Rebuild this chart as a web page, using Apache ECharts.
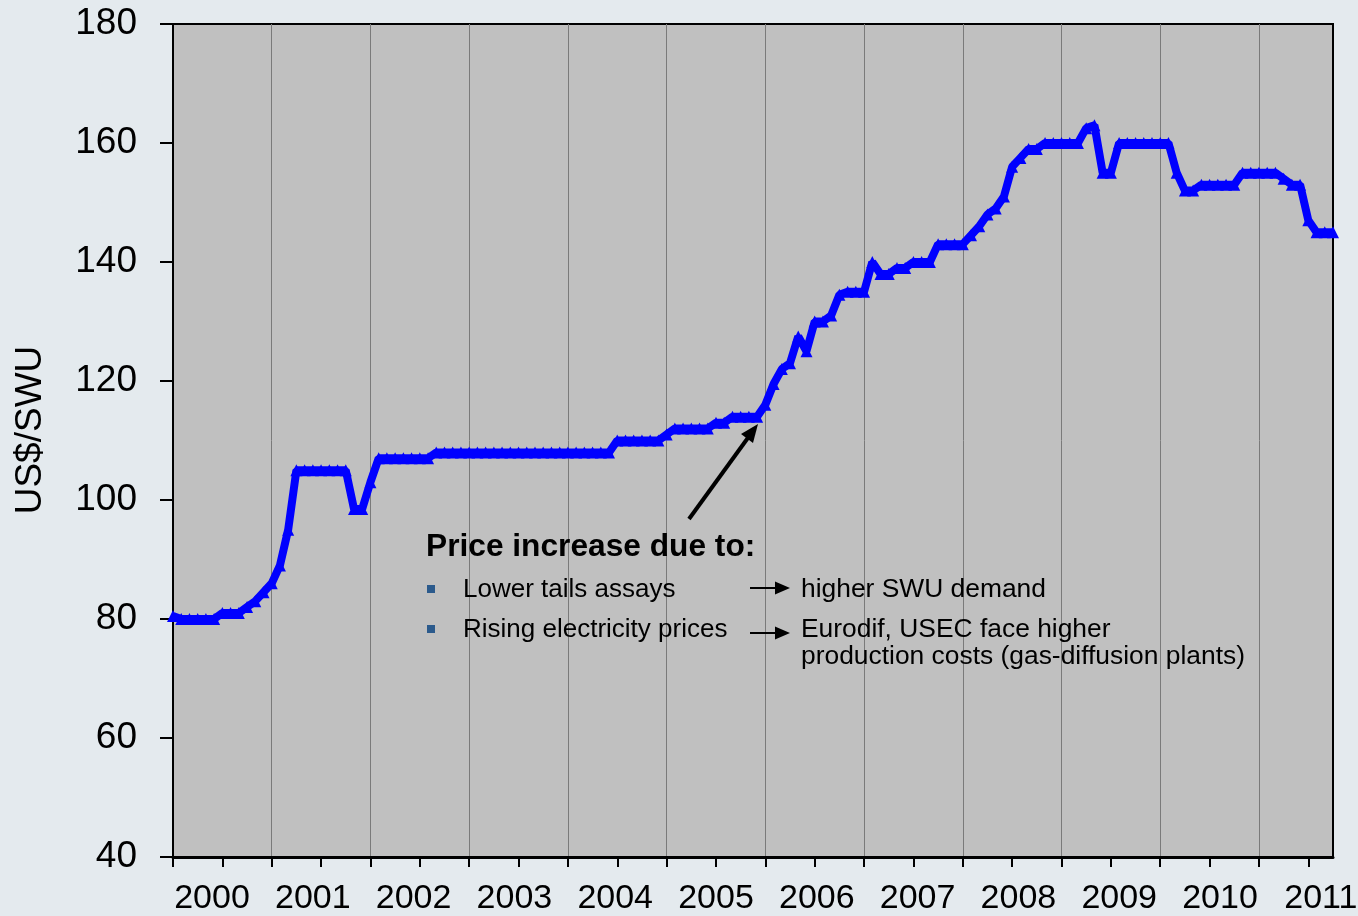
<!DOCTYPE html>
<html>
<head>
<meta charset="utf-8">
<script src="https://cdn.jsdelivr.net/npm/echarts@6/dist/echarts.min.js"></script>
<style>
html, body { margin: 0; padding: 0; background: #e4eaee; }
#main { width: 1358px; height: 916px; }
</style>
</head>
<body>
<div id="main"></div>
<script>
// year labels
var years = ['2000', '2001', '2002', '2003', '2004', '2005', '2006', '2007', '2008', '2009', '2010', '2011'];
// monthly spot price, US$/SWU, Jan 2000 .. Oct 2011
var price = [
    80.5, 80, 80, 80, 80, 80, 81, 81, 81, 82, 83, 84.5,                 // 2000
    86, 89, 95, 105, 105, 105, 105, 105, 105, 105, 98.5, 98.5,          // 2001
    103, 107, 107, 107, 107, 107, 107, 107, 108, 108, 108, 108,         // 2002
    108, 108, 108, 108, 108, 108, 108, 108, 108, 108, 108, 108,         // 2003
    108, 108, 108, 108, 108, 108, 110, 110, 110, 110, 110, 110,         // 2004
    111, 112, 112, 112, 112, 112, 113, 113, 114, 114, 114, 114,         // 2005
    116, 119.5, 122, 123, 127.5, 125, 130, 130, 131, 134.5, 135, 135,   // 2006
    135, 140, 138, 138, 139, 139, 140, 140, 140, 143, 143, 143,         // 2007
    143, 144.5, 146, 148, 149, 151, 156, 157.5, 159, 159, 160, 160,     // 2008
    160, 160, 160, 162.5, 163, 155, 155, 160, 160, 160, 160, 160,       // 2009
    160, 160, 155, 152, 152, 153, 153, 153, 153, 153, 155, 155,         // 2010
    155, 155, 155, 154, 153, 153, 147, 145, 145, 145                    // 2011
];
var yTicks = [40, 60, 80, 100, 120, 140, 160, 180];
// the year labels sit in their own evenly spaced row (slightly wider than the month scale)
var labelSlots = [0, 1, 2, 3, 4, 5, 6, 7, 8, 9, 10, 11];

// month categories built from the year list
var months = [];
for (var i = 0; i < price.length; i++) {
    var m = i % 12 + 1;
    months.push(years[Math.floor(i / 12)] + '-' + (m < 10 ? '0' + m : m));
}

var font = 'Liberation Sans, Arial, sans-serif';
var myChart = echarts.init(document.getElementById('main'));

function txt(x, y, s, size, bold) {
    return {
        type: 'text', x: x, y: y, z: 100,
        style: {
            text: s, fill: '#000',
            font: (bold ? 'bold ' : '') + size + 'px ' + font,
            textAlign: 'left', textVerticalAlign: 'middle',
            align: 'left', verticalAlign: 'middle'
        }
    };
}
function smallArrow(x, y) {
    return [
        { type: 'line', z: 100, shape: { x1: x, y1: y, x2: x + 28, y2: y }, style: { stroke: '#000', lineWidth: 2 } },
        { type: 'polygon', z: 100, shape: { points: [[x + 25, y - 6.5], [x + 40, y], [x + 25, y + 6.5]] }, style: { fill: '#000' } }
    ];
}

var graphics = [
    // y axis title
    {
        type: 'text', x: 31, y: 430, rotation: Math.PI / 2, z: 100,
        style: {
            text: 'US$/SWU', fill: '#000', font: '37px ' + font,
            textAlign: 'center', textVerticalAlign: 'middle',
            align: 'center', verticalAlign: 'middle'
        }
    },
    // big arrow to the start of the price rise
    { type: 'line', z: 100, shape: { x1: 689, y1: 519, x2: 750, y2: 435 }, style: { stroke: '#000', lineWidth: 4 } },
    { type: 'polygon', z: 100, shape: { points: [[758, 424], [753, 443], [741, 434]] }, style: { fill: '#000' } },
    txt(426, 547, 'Price increase due to:', 31.7, true),
    { type: 'rect', z: 100, shape: { x: 427, y: 585, width: 8, height: 8 }, style: { fill: '#2b5a8c' } },
    { type: 'rect', z: 100, shape: { x: 427, y: 625, width: 8, height: 8 }, style: { fill: '#2b5a8c' } },
    txt(463, 590, 'Lower tails assays', 26),
    txt(463, 630, 'Rising electricity prices', 26),
    txt(801, 590, 'higher SWU demand', 26.4),
    txt(801, 630, 'Eurodif, USEC face higher', 26.4),
    txt(801, 657, 'production costs (gas-diffusion plants)', 26.4)
].concat(smallArrow(750, 588), smallArrow(750, 633));

var option = {
    backgroundColor: '#e4eaee',
    animation: false,
    textStyle: { fontFamily: font },
    grid: {
        left: 173, top: 24, right: 25, bottom: 59,
        outerBoundsMode: 'none',
        containLabel: false,
        show: true, backgroundColor: '#c0c0c0',
        borderColor: '#000', borderWidth: 2
    },
    xAxis: [{
        type: 'category',
        data: months,
        boundaryGap: false,
        axisLine: { onZero: false, lineStyle: { color: '#000', width: 3 } },
        axisTick: { interval: 5, length: 10, lineStyle: { color: '#000', width: 2 } },
        axisLabel: { show: false },
        splitLine: { show: true, interval: 11, lineStyle: { color: '#7a7a7a', width: 1 } }
    }, {
        // row of year labels
        type: 'value',
        position: 'bottom',
        min: -0.387, max: 11.121,
        axisLine: { show: false, onZero: false },
        axisTick: { show: false },
        splitLine: { show: false },
        axisLabel: {
            customValues: labelSlots,
            formatter: function (v) { return years[Math.round(v)]; },
            color: '#000', fontSize: 34, margin: 25, fontFamily: font
        }
    }],
    yAxis: {
        type: 'value',
        min: yTicks[0], max: yTicks[yTicks.length - 1], interval: 20,
        axisLine: { show: true, onZero: false, lineStyle: { color: '#000', width: 2 } },
        axisTick: { show: true, length: 13, lineStyle: { color: '#000', width: 2 } },
        axisLabel: { color: '#000', fontSize: 37, margin: 36, fontFamily: font },
        splitLine: { show: false }
    },
    series: [{
        type: 'line',
        data: price,
        symbol: 'triangle',
        symbolSize: 12,
        showAllSymbol: true,
        lineStyle: { color: '#0000ff', width: 8 },
        itemStyle: { color: '#0000ff' }
    }],
    graphic: graphics
};

myChart.setOption(option);
</script>
</body>
</html>
